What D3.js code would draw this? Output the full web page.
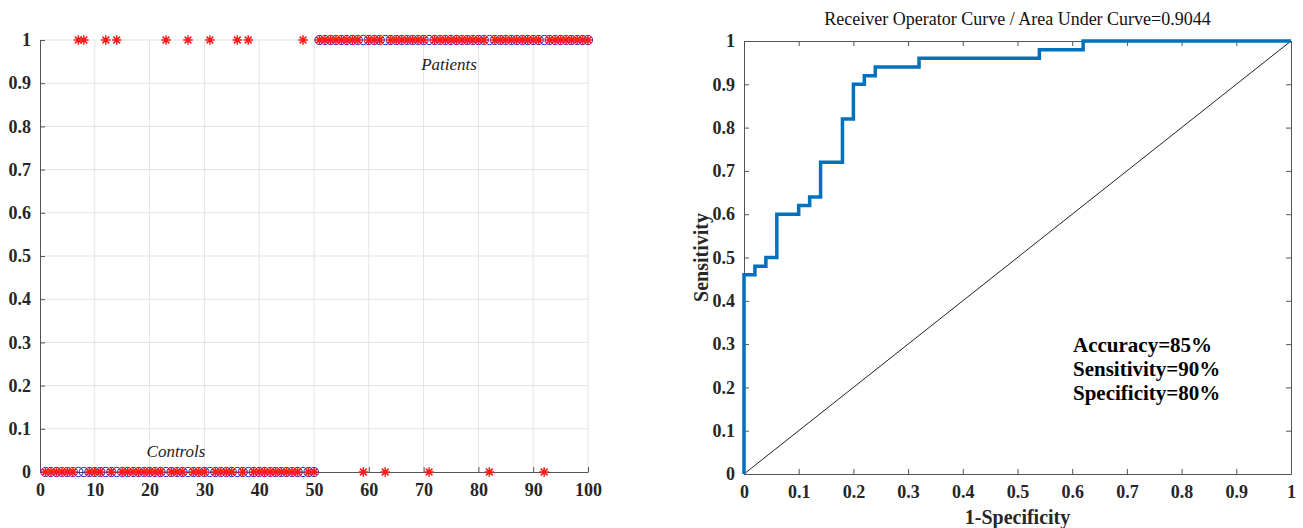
<!DOCTYPE html>
<html>
<head>
<meta charset="utf-8">
<script src="https://cdn.jsdelivr.net/npm/d3@7"></script>
<style>
  body { margin: 0; background: #fff; }
</style>
</head>
<body>
<script>
// sample index, true class (0 = control, 1 = patient)
var subjects = d3.range(1, 101);
var trueClass = subjects.map(function (i) { return i <= 50 ? 0 : 1; });
// misclassified samples
var controlsWrong = [7, 8, 12, 14, 23, 27, 31, 36, 38, 48];
var patientsWrong = [59, 63, 71, 82, 92];
var predicted = subjects.map(function (i, k) {
  if (controlsWrong.indexOf(i) >= 0) return 1;
  if (patientsWrong.indexOf(i) >= 0) return 0;
  return trueClass[k];
});

// ROC curve points (1-specificity, sensitivity)
var rocFpr = [0, 0, 0.02, 0.02, 0.04, 0.04, 0.06, 0.06, 0.10, 0.10, 0.12, 0.12, 0.14, 0.14, 0.18, 0.18, 0.20, 0.20, 0.22, 0.22, 0.24, 0.24, 0.32, 0.32, 0.54, 0.54, 0.62, 0.62, 1];
var rocTpr = [0, 0.46, 0.46, 0.48, 0.48, 0.50, 0.50, 0.60, 0.60, 0.62, 0.62, 0.64, 0.64, 0.72, 0.72, 0.82, 0.82, 0.90, 0.90, 0.92, 0.92, 0.94, 0.94, 0.96, 0.96, 0.98, 0.98, 1, 1];

var xTicksLeft = d3.range(0, 101, 10);
var yTicks = d3.range(0, 1.001, 0.1).map(function (v) { return +v.toFixed(1); });
var statLines = ["Accuracy=85%", "Sensitivity=90%", "Specificity=80%"];
var title = "Receiver Operator Curve / Area Under Curve=0.9044";

var W = 1303, H = 528;
var serif = "Liberation Serif, Times New Roman, serif";
var svg = d3.select("body").append("svg").attr("width", W).attr("height", H)
  .style("font-family", serif);

var fmt = function (d) { return d === 0 || d === 1 ? String(d) : d3.format(".1f")(d); };
var axisCol = "#555";

function styleAxis(a) {
  a.attr("font-family", null).attr("font-size", null);
  a.select(".domain").attr("stroke", axisCol);
  a.selectAll(".tick line").attr("stroke", axisCol);
  a.selectAll(".tick text")
    .style("font-family", serif).style("font-size", "18px")
    .style("font-weight", "bold").attr("fill", "#262626");
}

// ---------- left panel ----------
var xL = d3.scaleLinear().domain([0, 100]).range([40, 588]);
var yL = d3.scaleLinear().domain([0, 1]).range([472, 40]);

var gL = svg.append("g");

// grid
gL.append("g").selectAll("line").data(xTicksLeft.slice(1)).enter().append("line")
  .attr("x1", function (d) { return xL(d); }).attr("x2", function (d) { return xL(d); })
  .attr("y1", yL(0)).attr("y2", yL(1))
  .attr("stroke", "#e3e3e3").attr("stroke-width", 1);
gL.append("g").selectAll("line").data(yTicks.slice(1)).enter().append("line")
  .attr("x1", xL(0)).attr("x2", xL(100))
  .attr("y1", function (d) { return yL(d); }).attr("y2", function (d) { return yL(d); })
  .attr("stroke", "#e3e3e3").attr("stroke-width", 1);

var axL = gL.append("g").attr("transform", "translate(0," + yL(0) + ")")
  .call(d3.axisBottom(xL).tickValues(xTicksLeft).tickSizeInner(-5).tickSizeOuter(0).tickPadding(11));
var ayL = gL.append("g").attr("transform", "translate(" + xL(0) + ",0)")
  .call(d3.axisLeft(yL).tickValues(yTicks).tickFormat(fmt).tickSizeInner(-5).tickSizeOuter(0).tickPadding(9));
styleAxis(axL);
styleAxis(ayL);

// circles (true class)
gL.append("g").selectAll("circle").data(subjects).enter().append("circle")
  .attr("cx", function (d) { return xL(d); })
  .attr("cy", function (d, i) { return yL(trueClass[i]); })
  .attr("r", 4.6)
  .attr("fill", "none").attr("stroke", "#1f1fc8").attr("stroke-width", 1);

// stars (predicted class)
var starPath = function (r) {
  var d = r * Math.SQRT1_2;
  return "M" + (-r) + ",0L" + r + ",0M0," + (-r) + "L0," + r +
    "M" + (-d) + "," + (-d) + "L" + d + "," + d + "M" + (-d) + "," + d + "L" + d + "," + (-d);
};
gL.append("g").selectAll("path").data(subjects).enter().append("path")
  .attr("transform", function (d, i) { return "translate(" + xL(d) + "," + yL(predicted[i]) + ")"; })
  .attr("d", starPath(4.8))
  .attr("stroke", "#ff1a1a").attr("stroke-width", 1.5).attr("fill", "none");

gL.append("text").attr("x", 449).attr("y", 70).attr("text-anchor", "middle")
  .style("font-style", "italic").style("font-size", "17px").attr("fill", "#222").text("Patients");
gL.append("text").attr("x", 176).attr("y", 457).attr("text-anchor", "middle")
  .style("font-style", "italic").style("font-size", "17px").attr("fill", "#222").text("Controls");

// ---------- right panel ----------
var xR = d3.scaleLinear().domain([0, 1]).range([744, 1291]);
var yR = d3.scaleLinear().domain([0, 1]).range([474, 41]);
var gR = svg.append("g");

var axR = gR.append("g").attr("transform", "translate(0," + yR(0) + ")")
  .call(d3.axisBottom(xR).tickValues(yTicks).tickFormat(fmt).tickSizeInner(-5).tickSizeOuter(0).tickPadding(11));
var ayR = gR.append("g").attr("transform", "translate(" + xR(0) + ",0)")
  .call(d3.axisLeft(yR).tickValues(yTicks).tickFormat(fmt).tickSizeInner(-5).tickSizeOuter(0).tickPadding(9));
var atR = gR.append("g").attr("transform", "translate(0," + yR(1) + ")")
  .call(d3.axisTop(xR).tickValues(yTicks).tickFormat("").tickSizeInner(-5).tickSizeOuter(0));
var arR = gR.append("g").attr("transform", "translate(" + xR(1) + ",0)")
  .call(d3.axisRight(yR).tickValues(yTicks).tickFormat("").tickSizeInner(-5).tickSizeOuter(0));
[axR, ayR, atR, arR].forEach(styleAxis);

// chance line
gR.append("line")
  .attr("x1", xR(0)).attr("y1", yR(0)).attr("x2", xR(1)).attr("y2", yR(1))
  .attr("stroke", "#222").attr("stroke-width", 1);

var line = d3.line().x(function (d) { return xR(d[0]); }).y(function (d) { return yR(d[1]); });
gR.append("path").datum(rocFpr.map(function (f, i) { return [f, rocTpr[i]]; }))
  .attr("d", line).attr("fill", "none").attr("stroke", "#0072bd").attr("stroke-width", 3.5)
  .attr("stroke-linejoin", "miter");

gR.append("text").attr("x", (xR(0) + xR(1)) / 2).attr("y", 25).attr("text-anchor", "middle")
  .style("font-size", "18px").attr("fill", "#111").text(title);
gR.append("text").attr("x", (xR(0) + xR(1)) / 2).attr("y", 524).attr("text-anchor", "middle")
  .style("font-size", "20px").style("font-weight", "bold").attr("fill", "#262626").text("1-Specificity");
gR.append("text").attr("transform", "translate(708," + ((yR(0) + yR(1)) / 2) + ") rotate(-90)")
  .attr("text-anchor", "middle")
  .style("font-size", "20px").style("font-weight", "bold").attr("fill", "#262626").text("Sensitivity");

gR.append("g").selectAll("text").data(statLines).enter().append("text")
  .attr("x", 1073).attr("y", function (d, i) { return 352 + i * 24; })
  .style("font-size", "21px").style("font-weight", "bold").attr("fill", "#000")
  .text(function (d) { return d; });
</script>
</body>
</html>
